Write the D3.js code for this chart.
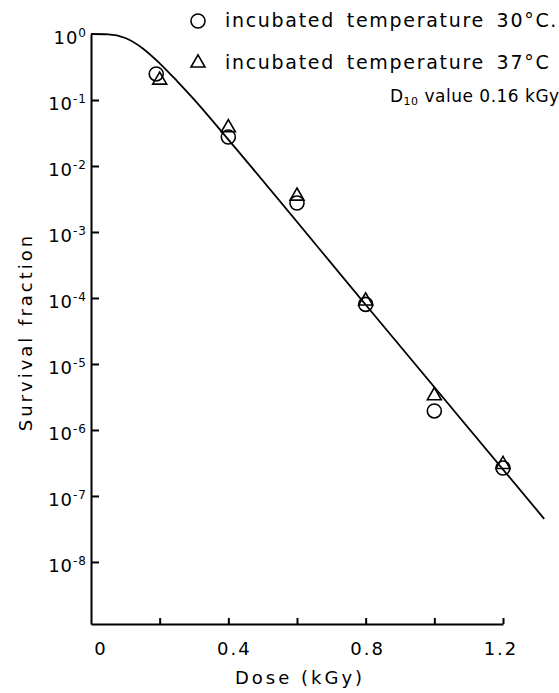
<!DOCTYPE html>
<html>
<head>
<meta charset="utf-8">
<script src="https://cdn.jsdelivr.net/npm/d3@7"></script>
<style>
  body { margin: 0; background: #fff; }
  svg text { font-family: "DejaVu Sans", sans-serif; fill: #000; }
  .axis path, .axis line { stroke: #000; stroke-width: 2; }
</style>
</head>
<body>
<div id="chart"></div>
<script>
// data
let dose30 = [0.19, 0.4, 0.6, 0.8, 1.0, 1.2];
let surv30 = [0.248, 0.0275, 0.00275, 8.0e-5, 1.94e-6, 2.65e-7];

let dose37 = [0.2, 0.4, 0.6, 0.8, 1.0, 1.2];
let surv37 = [0.2, 0.038, 0.0035, 9.0e-5, 3.3e-6, 3.0e-7];

let curveDose = [0, 0.05, 0.1, 0.15, 0.2, 0.25, 0.3, 0.4, 0.8, 1.32];
let curveSurv = [1, 0.99, 0.87, 0.61, 0.36, 0.195, 0.102, 0.0251, 7.9e-5, 4.5e-8];

let xTicks = [0.2, 0.4, 0.6, 0.8, 1.0, 1.2];
let xLabelVals = [0, 0.4, 0.8, 1.2];
let xLabelText = ["0", "0.4", "0.8", "1.2"];
let yTickExp = [-1, -2, -3, -4, -5, -6, -7, -8];
let yLabelExp = [0, -1, -2, -3, -4, -5, -6, -7, -8];

let width = 559;
let height = 693;

let svg = d3.select("#chart")
  .append("svg")
  .attr("width", width)
  .attr("height", height);

let xScale = d3.scaleLinear().domain([0, 1.2]).range([91, 503]);
let yScale = d3.scaleLog().domain([Math.pow(10, -8.94), 1]).range([624, 34]);

// axes
let xAxis = d3.axisBottom(xScale)
  .tickValues(xTicks)
  .tickSizeInner(-6)
  .tickSizeOuter(0)
  .tickFormat("");
svg.append("g")
  .attr("class", "axis xAxis")
  .attr("transform", "translate(0," + 624 + ")")
  .call(xAxis);

let yAxis = d3.axisLeft(yScale)
  .tickValues(yTickExp.map(function(e) { return Math.pow(10, e); }))
  .tickSizeInner(-8)
  .tickSizeOuter(0)
  .tickFormat("");
svg.append("g")
  .attr("class", "axis yAxis")
  .attr("transform", "translate(" + xScale(0) + ",0)")
  .call(yAxis);

// y tick labels 10^n
yLabelExp.forEach(function(e) {
  let t = svg.append("text")
    .attr("x", 87)
    .attr("y", yScale(Math.pow(10, e)) + 10)
    .attr("text-anchor", "end")
    .attr("font-size", 18)
    .attr("letter-spacing", 1);
  t.append("tspan").text("10");
  t.append("tspan")
    .attr("font-size", 12)
    .attr("dy", -7)
    .text(e === 0 ? "0" : "-" + (-e));
});

// x tick labels (hand lettered, drift a little left towards the right end)
xLabelVals.forEach(function(v, i) {
  svg.append("text")
    .attr("x", xScale(v) + 10 - 10 * v)
    .attr("y", 655)
    .attr("text-anchor", "middle")
    .attr("font-size", 18)
    .attr("letter-spacing", 2)
    .text(xLabelText[i]);
});

svg.append("text")
  .attr("x", 300)
  .attr("y", 684)
  .attr("text-anchor", "middle")
  .attr("font-size", 18)
  .attr("letter-spacing", 3)
  .text("Dose (kGy)");

svg.append("text")
  .attr("transform", "translate(32,332)rotate(-90)")
  .attr("text-anchor", "middle")
  .attr("font-size", 18)
  .attr("letter-spacing", 3)
  .text("Survival fraction");

// survival curve
let line = d3.line()
  .x(function(d, i) { return xScale(curveDose[i]); })
  .y(function(d) { return yScale(d); })
  .curve(d3.curveMonotoneX);

svg.append("path")
  .datum(curveSurv)
  .attr("d", line)
  .attr("fill", "none")
  .attr("stroke", "#000")
  .attr("stroke-width", 1.8);

// points
let tri = d3.symbol().type(d3.symbolTriangle).size(85);

svg.selectAll(".c30")
  .data(surv30)
  .enter()
  .append("circle")
  .attr("class", "c30")
  .attr("cx", function(d, i) { return xScale(dose30[i]); })
  .attr("cy", function(d) { return yScale(d); })
  .attr("r", 7)
  .attr("fill", "none")
  .attr("stroke", "#000")
  .attr("stroke-width", 1.6);

svg.selectAll(".t37")
  .data(surv37)
  .enter()
  .append("path")
  .attr("class", "t37")
  .attr("d", tri)
  .attr("transform", function(d, i) {
    return "translate(" + xScale(dose37[i]) + "," + yScale(d) + ")";
  })
  .attr("fill", "none")
  .attr("stroke", "#000")
  .attr("stroke-width", 1.6);

// legend
svg.append("circle")
  .attr("cx", 198).attr("cy", 21).attr("r", 7)
  .attr("fill", "none").attr("stroke", "#000").attr("stroke-width", 1.6);
svg.append("text")
  .attr("x", 225).attr("y", 27)
  .attr("font-size", 19)
  .attr("letter-spacing", 1.7)
  .attr("word-spacing", 4)
  .text("incubated temperature 30°C.");

svg.append("path")
  .attr("d", tri)
  .attr("transform", "translate(198,63)")
  .attr("fill", "none").attr("stroke", "#000").attr("stroke-width", 1.6);
svg.append("text")
  .attr("x", 225).attr("y", 69)
  .attr("font-size", 19)
  .attr("letter-spacing", 1.7)
  .attr("word-spacing", 4)
  .text("incubated temperature 37°C");

let d10 = svg.append("text")
  .attr("x", 390).attr("y", 102)
  .attr("font-size", 17)
  .attr("letter-spacing", 0.5);
d10.append("tspan").text("D");
d10.append("tspan").attr("font-size", 11).attr("dy", 3).text("10");
d10.append("tspan").attr("dy", -3).text(" value 0.16 kGy");
</script>
</body>
</html>
